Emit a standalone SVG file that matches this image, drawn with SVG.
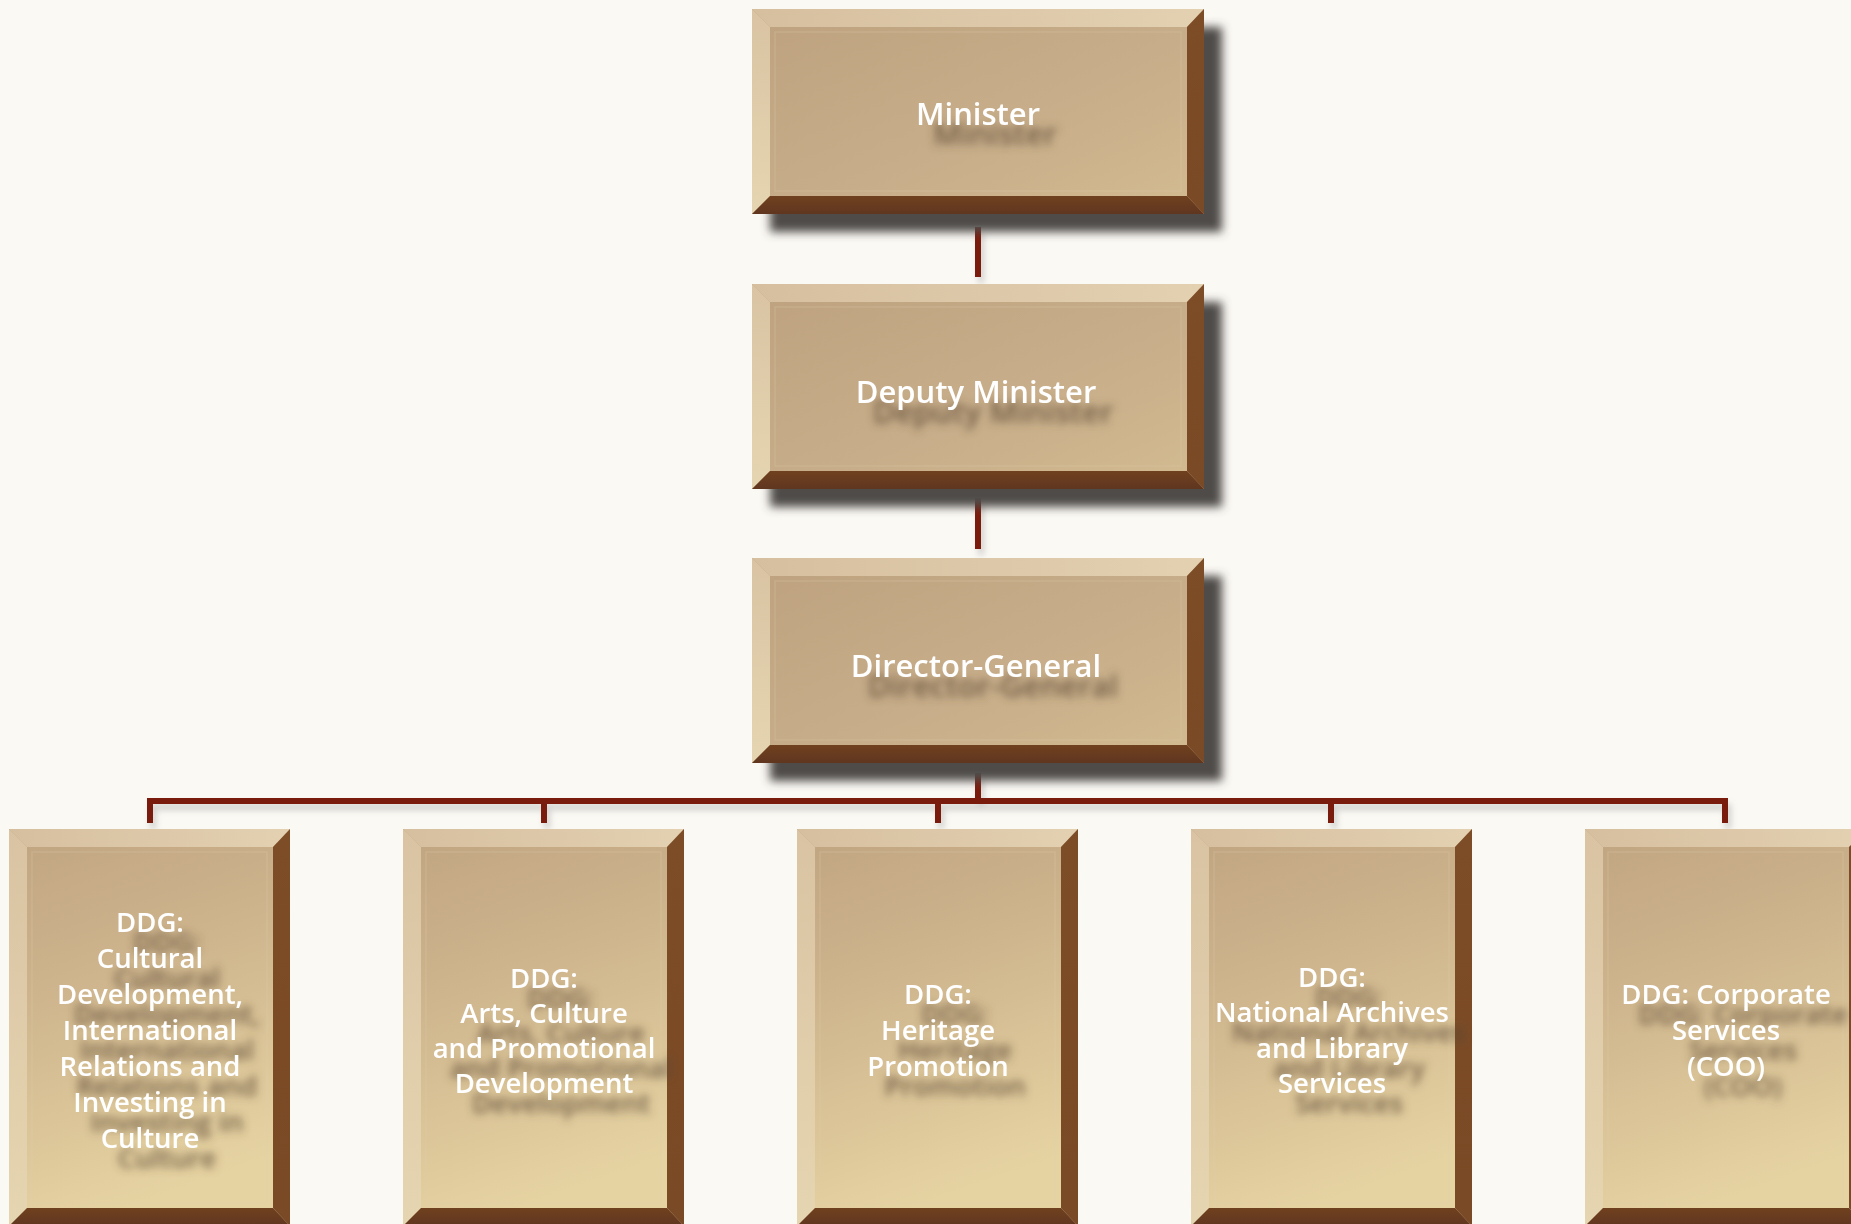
<svg xmlns="http://www.w3.org/2000/svg" width="1851" height="1224" viewBox="0 0 1851 1224">
<defs>
<style>
.face-top{fill:url(#gFaceTop)}
.face-bot{fill:url(#gFaceBot)}
.bev-t{fill:url(#gBevT)}
.bev-l{fill:url(#gBevL)}
.bev-r{fill:url(#gBevR)}
.bev-b{fill:url(#gBevB)}
.inner{fill:none;stroke:#e2d1b2;stroke-opacity:0.22;stroke-width:1.5}
.shadow{fill:#4f4b49;filter:url(#fBlur)}
.lbl{font-family:"Open Sans","Noto Sans","Liberation Sans",sans-serif;font-weight:600;fill:#ffffff;text-anchor:middle}
.l32{font-size:31px}
.l28{font-size:27.5px}
.txt{filter:url(#fTextShadow)}
.conn{fill:none;stroke:#7a1a0e;stroke-width:6;stroke-linejoin:miter;stroke-linecap:butt}
</style>
<linearGradient id="gFaceTop" x1="0" y1="0" x2="1" y2="1">
<stop offset="0" stop-color="#bea27f"/>
<stop offset="0.55" stop-color="#c7ad89"/>
<stop offset="1" stop-color="#d3bb91"/>
</linearGradient>
<linearGradient id="gFaceBot" x1="0" y1="0" x2="0.25" y2="1">
<stop offset="0" stop-color="#c0a481"/>
<stop offset="0.45" stop-color="#cfb68e"/>
<stop offset="1" stop-color="#e6d3a2"/>
</linearGradient>
<linearGradient id="gBevT" x1="0" y1="0" x2="1" y2="0">
<stop offset="0" stop-color="#d6bf9f"/>
<stop offset="1" stop-color="#e3d1b2"/>
</linearGradient>
<linearGradient id="gBevL" x1="0" y1="0" x2="0" y2="1">
<stop offset="0" stop-color="#d9c3a2"/>
<stop offset="1" stop-color="#e6d5b1"/>
</linearGradient>
<linearGradient id="gBevR" x1="0" y1="0" x2="0" y2="1">
<stop offset="0" stop-color="#7d4d27"/>
<stop offset="1" stop-color="#7a4925"/>
</linearGradient>
<linearGradient id="gBevB" x1="0" y1="0" x2="0" y2="1">
<stop offset="0" stop-color="#70411f"/>
<stop offset="1" stop-color="#603620"/>
</linearGradient>
<filter id="fBlur" x="-20%" y="-20%" width="140%" height="140%">
<feGaussianBlur stdDeviation="5"/>
</filter>
<filter id="fTextShadow" x="-30%" y="-50%" width="160%" height="250%">
<feGaussianBlur in="SourceAlpha" stdDeviation="4.5" result="b"/>
<feOffset in="b" dx="17" dy="20" result="o"/>
<feFlood flood-color="#5a4632" flood-opacity="0.8"/>
<feComposite in2="o" operator="in" result="s"/>
<feMerge><feMergeNode in="s"/><feMergeNode in="SourceGraphic"/></feMerge>
</filter>
<filter id="fConnShadow" x="-10%" y="-50%" width="120%" height="300%">
<feGaussianBlur in="SourceAlpha" stdDeviation="3" result="b"/>
<feOffset in="b" dx="3" dy="6" result="o"/>
<feFlood flood-color="#808080" flood-opacity="0.35"/>
<feComposite in2="o" operator="in" result="s"/>
<feMerge><feMergeNode in="s"/><feMergeNode in="SourceGraphic"/></feMerge>
</filter>
</defs>
<rect x="0" y="0" width="1851" height="1224" fill="#faf9f4"/>

<g id="connectors" filter="url(#fConnShadow)">
<path class="conn" d="M978,227 V277"/>
<path class="conn" d="M978,498 V549"/>
<path class="conn" d="M978,773 V801"/>
<path class="conn" d="M150,823 V801 H1725 V823"/>
<path class="conn" d="M544,801 V823"/>
<path class="conn" d="M938,801 V823"/>
<path class="conn" d="M1331,801 V823"/>
</g>

<g id="node-minister">
<rect class="shadow" x="770" y="27" width="452" height="205"/>
<rect class="face-top" x="752" y="9" width="452" height="205"/>
<rect class="inner" x="775" y="32" width="406" height="159"/>
<polygon class="bev-t" points="752,9 1204,9 1187,27 770,27"/>
<polygon class="bev-l" points="752,9 770,27 770,196 752,214"/>
<polygon class="bev-r" points="1204,9 1204,214 1187,196 1187,27"/>
<polygon class="bev-b" points="752,214 770,196 1187,196 1204,214"/>
<g class="txt"><text class="lbl l32" x="978" y="125">Minister</text></g>
</g>

<g id="node-deputy-minister">
<rect class="shadow" x="770" y="302" width="452" height="205"/>
<rect class="face-top" x="752" y="284" width="452" height="205"/>
<rect class="inner" x="775" y="307" width="406" height="159"/>
<polygon class="bev-t" points="752,284 1204,284 1187,302 770,302"/>
<polygon class="bev-l" points="752,284 770,302 770,471 752,489"/>
<polygon class="bev-r" points="1204,284 1204,489 1187,471 1187,302"/>
<polygon class="bev-b" points="752,489 770,471 1187,471 1204,489"/>
<g class="txt"><text class="lbl l32" x="976" y="403">Deputy Minister</text></g>
</g>

<g id="node-director-general">
<rect class="shadow" x="770" y="576" width="452" height="205"/>
<rect class="face-top" x="752" y="558" width="452" height="205"/>
<rect class="inner" x="775" y="581" width="406" height="159"/>
<polygon class="bev-t" points="752,558 1204,558 1187,576 770,576"/>
<polygon class="bev-l" points="752,558 770,576 770,745 752,763"/>
<polygon class="bev-r" points="1204,558 1204,763 1187,745 1187,576"/>
<polygon class="bev-b" points="752,763 770,745 1187,745 1204,763"/>
<g class="txt"><text class="lbl l32" x="976" y="677">Director-General</text></g>
</g>

<g id="node-ddg-cultural">
<rect class="face-bot" x="9" y="829" width="281" height="397"/>
<rect class="inner" x="32" y="852" width="235" height="351"/>
<polygon class="bev-t" points="9,829 290,829 273,847 27,847"/>
<polygon class="bev-l" points="9,829 27,847 27,1208 9,1226"/>
<polygon class="bev-r" points="290,829 290,1226 273,1208 273,847"/>
<polygon class="bev-b" points="9,1226 27,1208 273,1208 290,1226"/>
<g class="txt">
<text class="lbl l28" x="150" y="932">DDG:</text>
<text class="lbl l28" x="150" y="968">Cultural</text>
<text class="lbl l28" x="150" y="1004">Development,</text>
<text class="lbl l28" x="150" y="1040">International</text>
<text class="lbl l28" x="150" y="1076">Relations and</text>
<text class="lbl l28" x="150" y="1112">Investing in</text>
<text class="lbl l28" x="150" y="1148">Culture</text>
</g>
</g>

<g id="node-ddg-arts">
<rect class="face-bot" x="403" y="829" width="281" height="397"/>
<rect class="inner" x="426" y="852" width="235" height="351"/>
<polygon class="bev-t" points="403,829 684,829 667,847 421,847"/>
<polygon class="bev-l" points="403,829 421,847 421,1208 403,1226"/>
<polygon class="bev-r" points="684,829 684,1226 667,1208 667,847"/>
<polygon class="bev-b" points="403,1226 421,1208 667,1208 684,1226"/>
<g class="txt">
<text class="lbl l28" x="544" y="988">DDG:</text>
<text class="lbl l28" x="544" y="1023">Arts, Culture</text>
<text class="lbl l28" x="544" y="1058">and Promotional</text>
<text class="lbl l28" x="544" y="1093">Development</text>
</g>
</g>

<g id="node-ddg-heritage">
<rect class="face-bot" x="797" y="829" width="281" height="397"/>
<rect class="inner" x="820" y="852" width="235" height="351"/>
<polygon class="bev-t" points="797,829 1078,829 1061,847 815,847"/>
<polygon class="bev-l" points="797,829 815,847 815,1208 797,1226"/>
<polygon class="bev-r" points="1078,829 1078,1226 1061,1208 1061,847"/>
<polygon class="bev-b" points="797,1226 815,1208 1061,1208 1078,1226"/>
<g class="txt">
<text class="lbl l28" x="938" y="1004">DDG:</text>
<text class="lbl l28" x="938" y="1040">Heritage</text>
<text class="lbl l28" x="938" y="1076">Promotion</text>
</g>
</g>

<g id="node-ddg-archives">
<rect class="face-bot" x="1191" y="829" width="281" height="397"/>
<rect class="inner" x="1214" y="852" width="235" height="351"/>
<polygon class="bev-t" points="1191,829 1472,829 1455,847 1209,847"/>
<polygon class="bev-l" points="1191,829 1209,847 1209,1208 1191,1226"/>
<polygon class="bev-r" points="1472,829 1472,1226 1455,1208 1455,847"/>
<polygon class="bev-b" points="1191,1226 1209,1208 1455,1208 1472,1226"/>
<g class="txt">
<text class="lbl l28" x="1332" y="987">DDG:</text>
<text class="lbl l28" x="1332" y="1022">National Archives</text>
<text class="lbl l28" x="1332" y="1058">and Library</text>
<text class="lbl l28" x="1332" y="1093">Services</text>
</g>
</g>

<g id="node-ddg-corporate">
<rect class="face-bot" x="1585" y="829" width="281" height="397"/>
<rect class="inner" x="1608" y="852" width="235" height="351"/>
<polygon class="bev-t" points="1585,829 1866,829 1849,847 1603,847"/>
<polygon class="bev-l" points="1585,829 1603,847 1603,1208 1585,1226"/>
<polygon class="bev-r" points="1866,829 1866,1226 1849,1208 1849,847"/>
<polygon class="bev-b" points="1585,1226 1603,1208 1849,1208 1866,1226"/>
<g class="txt">
<text class="lbl l28" x="1726" y="1004">DDG: Corporate</text>
<text class="lbl l28" x="1726" y="1040">Services</text>
<text class="lbl l28" x="1726" y="1076">(COO)</text>
</g>
</g>
</svg>
